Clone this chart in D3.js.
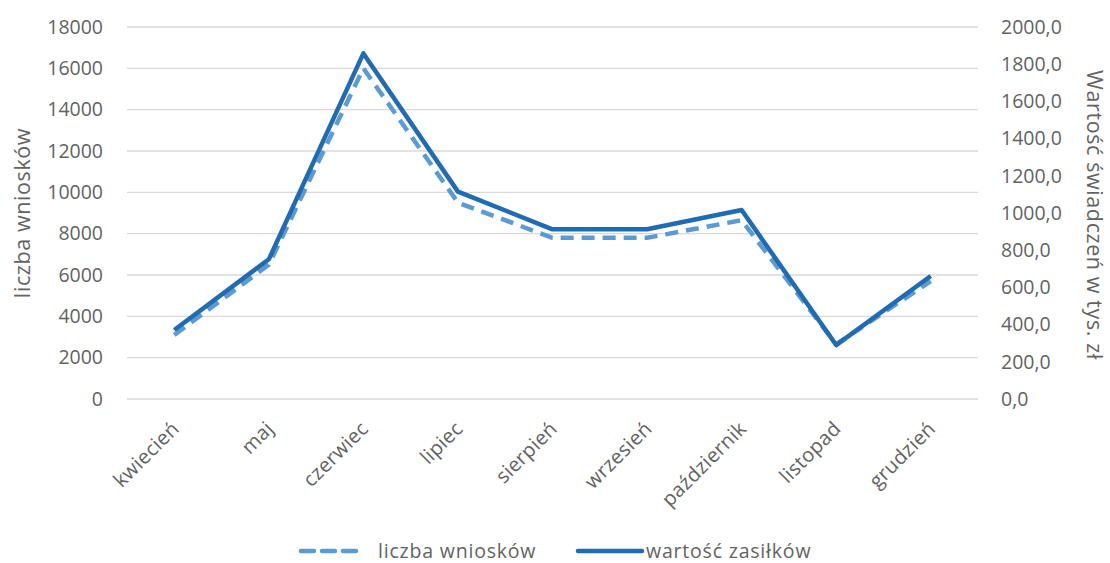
<!DOCTYPE html>
<html><head><meta charset="utf-8">
<script src="https://cdn.jsdelivr.net/npm/d3@7"></script>
<style>body{margin:0;background:#fff}svg{display:block}</style>
</head><body><svg id="c" width="1110" height="563"></svg>
<script>
const categories = ["kwiecień","maj","czerwiec","lipiec","sierpień","wrzesień","październik","listopad","grudzień"];
const liczbaWnioskow = [3100, 6500, 16000, 9500, 7800, 7800, 8650, 2650, 5700];
const wartoscZasilkow = [371, 751, 1858, 1115, 912, 913, 1016, 290, 661];
const leftTicks = [0,2000,4000,6000,8000,10000,12000,14000,16000,18000];
const rightTicks = [0,200,400,600,800,1000,1200,1400,1600,1800,2000];
const seriesNames = ["liczba wniosków","wartość zasiłków"];

const svg = d3.select("#c");
const font = "'Open Sans', sans-serif";
const textCol = "#636363";
const x0 = 127, x1 = 978, yTop = 27, yBot = 399;

const x = d3.scaleBand().domain(categories).range([x0, x1]);
const yL = d3.scaleLinear().domain([0,18000]).range([yBot, yTop]);
const yR = d3.scaleLinear().domain([0,2000]).range([yBot, yTop]);

// gridlines
svg.append("g").selectAll("line").data(leftTicks).join("line")
  .attr("x1", x0).attr("x2", x1)
  .attr("y1", d=>yL(d)).attr("y2", d=>yL(d))
  .attr("stroke", "#d9d9d9").attr("stroke-width", 1.3);

// left axis
const gl = svg.append("g").attr("transform", `translate(${x0},0)`)
  .call(d3.axisLeft(yL).tickValues(leftTicks).tickSize(0).tickPadding(24).tickFormat(d3.format("d")));
gl.select(".domain").remove();
gl.selectAll("text").attr("font-family", font).attr("font-size", 19.5).attr("fill", textCol);

// right axis
const gr = svg.append("g").attr("transform", `translate(${x1},0)`)
  .call(d3.axisRight(yR).tickValues(rightTicks).tickSize(0).tickPadding(23)
    .tickFormat(d => d3.format(".1f")(d).replace(".", ",")));
gr.select(".domain").remove();
gr.selectAll("text").attr("font-family", font).attr("font-size", 19.5).attr("fill", textCol);

// x axis labels
const gx = svg.append("g").attr("transform", `translate(0,${yBot})`)
  .call(d3.axisBottom(x).tickSize(0).tickPadding(0));
gx.select(".domain").remove();
gx.selectAll("text")
  .attr("font-family", font).attr("font-size", 20).attr("fill", textCol)
  .attr("text-anchor", "end").attr("dy", 0).attr("letter-spacing", 0.3)
  .attr("transform", "translate(6,31) rotate(-45)");

// axis titles
svg.append("text").attr("transform", "translate(30,213) rotate(-90)")
  .attr("text-anchor", "middle").attr("font-family", font).attr("font-size", 21.5)
  .attr("letter-spacing", 0.6).attr("fill", textCol).text("liczba wniosków");
svg.append("text").attr("transform", "translate(1087,215) rotate(90)")
  .attr("text-anchor", "middle").attr("font-family", font).attr("font-size", 21.5)
  .attr("letter-spacing", 0.6).attr("fill", textCol).text("Wartość świadczeń w tys. zł");

const cx = d => x(d) + x.bandwidth()/2;
const lineL = d3.line().x((d,i)=>cx(categories[i])).y(d=>yL(d));
const lineR = d3.line().x((d,i)=>cx(categories[i])).y(d=>yR(d));

svg.append("path").datum(liczbaWnioskow).attr("d", lineL)
  .attr("fill","none").attr("stroke","#5b9bd5").attr("stroke-width",4.5)
  .attr("stroke-dasharray","13,8").attr("stroke-linejoin","round").attr("stroke-linecap","butt");
svg.append("path").datum(wartoscZasilkow).attr("d", lineR)
  .attr("fill","none").attr("stroke","#1f6cb4").attr("stroke-width",4.5)
  .attr("stroke-linejoin","round");

// legend
const lg = svg.append("g");
lg.append("line").attr("x1",301).attr("x2",362).attr("y1",551).attr("y2",551)
  .attr("stroke","#5b9bd5").attr("stroke-width",4.5).attr("stroke-dasharray","13,8").attr("stroke-linecap","round");
lg.append("text").attr("x",378).attr("y",558).attr("font-family",font).attr("font-size",19.5)
  .attr("letter-spacing",0.8).attr("fill",textCol).text(seriesNames[0]);
lg.append("line").attr("x1",578).attr("x2",642).attr("y1",551).attr("y2",551)
  .attr("stroke","#1f6cb4").attr("stroke-width",4.5).attr("stroke-linecap","round");
lg.append("text").attr("x",646).attr("y",558).attr("font-family",font).attr("font-size",19.5)
  .attr("letter-spacing",0.8).attr("fill",textCol).text(seriesNames[1]);
</script></body></html>
